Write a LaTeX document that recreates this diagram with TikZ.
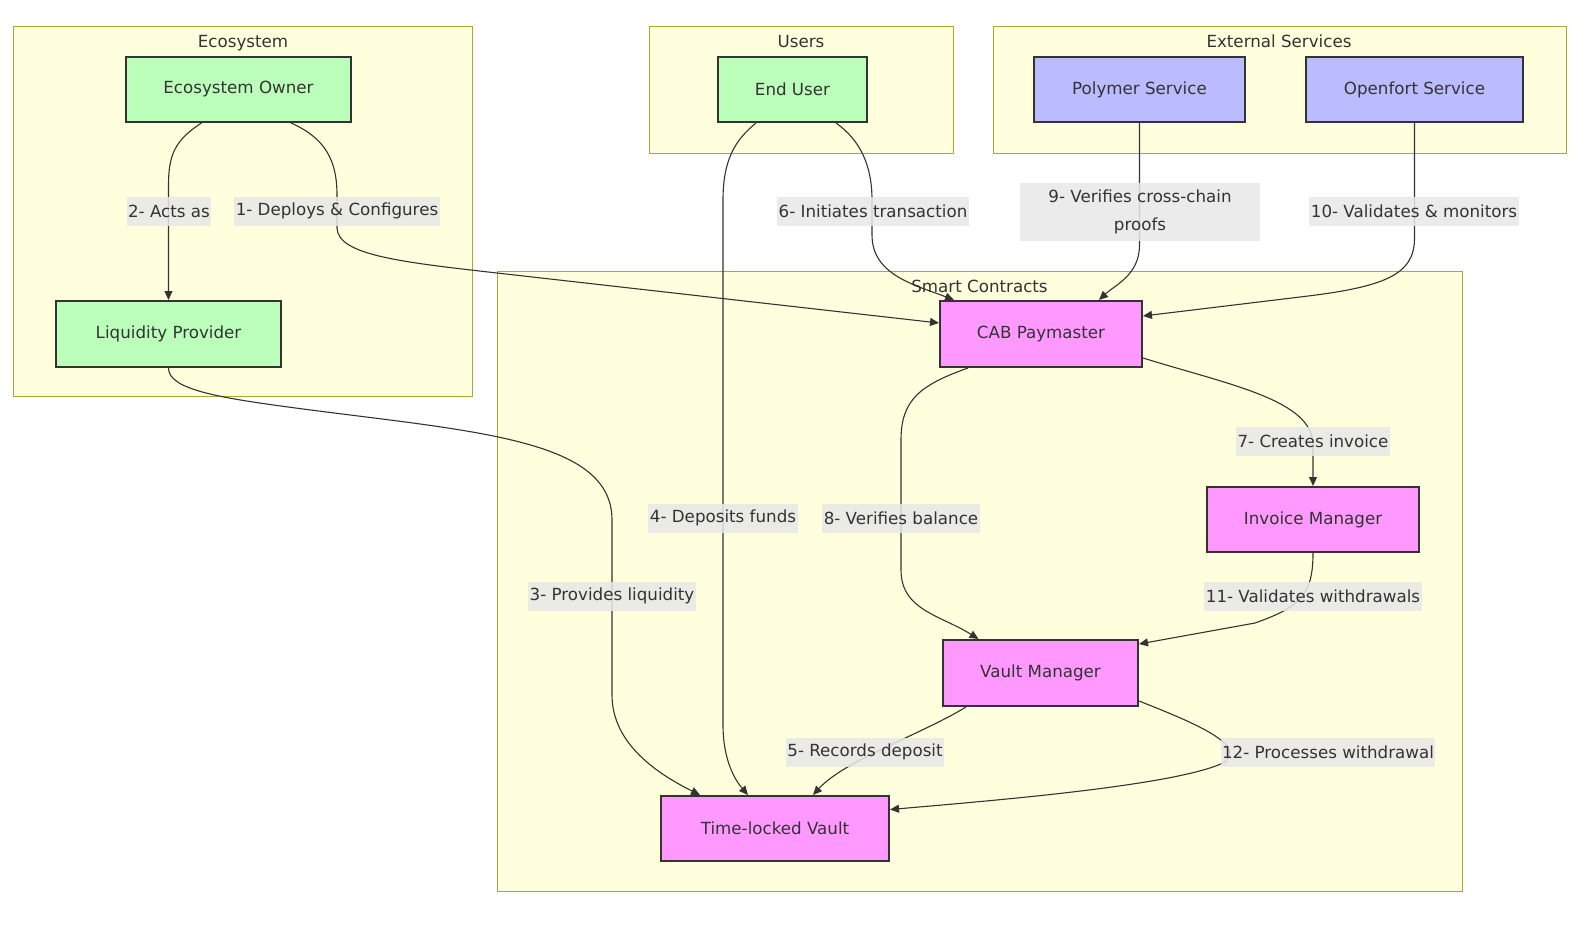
\documentclass[tikz,border=0pt]{standalone}
\usepackage{fontspec}
\setmainfont{DejaVu Sans}
\usetikzlibrary{arrows.meta}
\definecolor{clfill}{HTML}{FFFFDE}
\definecolor{clstroke}{HTML}{AAAA33}
\definecolor{nstroke}{HTML}{333333}
\definecolor{txt}{HTML}{333333}
\definecolor{gfill}{HTML}{BBFFBB}
\definecolor{bfill}{HTML}{BBBBFF}
\definecolor{pfill}{HTML}{FF99FF}
\definecolor{lblfill}{HTML}{E8E8E8}
\newcommand\dfont{\fontsize{16.7}{20}\selectfont}
\tikzset{
  cluster/.style={draw=clstroke, fill=clfill, line width=1pt},
  ctitle/.style={font=\dfont, text=txt, inner sep=0pt, anchor=base},
  box/.style={draw=nstroke, line width=2pt, minimum height=65pt, inner sep=0pt, text=txt, font=\dfont},
  gbox/.style={box, fill=gfill},
  bbox/.style={box, fill=bfill},
  pbox/.style={box, fill=pfill},
  edge/.style={draw=nstroke, line width=1.1pt, -{Triangle[length=9pt,width=8pt]}},
  elabel/.style={fill=lblfill, fill opacity=0.85, text opacity=1, inner xsep=1.5pt, inner ysep=0pt, minimum height=29pt, font=\dfont, text=txt}
}
\begin{document}
\begin{tikzpicture}[x=1pt,y=-1pt]
\useasboundingbox[fill=white] (0,0) rectangle (1584,924);
% clusters
\draw[cluster] (13,26) rectangle (472,396);
\draw[cluster] (649,26) rectangle (953,153);
\draw[cluster] (993,26) rectangle (1566,153);
\draw[cluster] (497,271) rectangle (1462,891);
\node[ctitle] (tEco) at (243,47) {Ecosystem};
\node[ctitle] (tUsers) at (801,47) {Users};
\node[ctitle] (tExt) at (1279,47) {External Services};
\node[ctitle] (tSC) at (979.5,292) {Smart Contracts};
% nodes
\node[gbox, minimum width=225pt] (owner) at (238.5,89.5) {Ecosystem Owner};
\node[gbox, minimum width=225pt, minimum height=66pt] (lp) at (168.5,334) {Liquidity Provider};
\node[gbox, minimum width=149pt] (enduser) at (792.5,89.5) {End User};
\node[bbox, minimum width=211pt] (polymer) at (1139.5,89.5) {Polymer Service};
\node[bbox, minimum width=217pt] (openfort) at (1414.5,89.5) {Openfort Service};
\node[pbox, minimum width=202pt, minimum height=66pt] (cab) at (1041,334) {CAB Paymaster};
\node[pbox, minimum width=212pt] (invoice) at (1313,519.5) {Invoice Manager};
\node[pbox, minimum width=195pt, minimum height=66pt] (vm) at (1040.5,673) {Vault Manager};
\node[pbox, minimum width=228pt] (vault) at (775,828.5) {Time-locked Vault};
% edges
\draw[edge] ([xshift=52.5pt]owner.south) .. controls (325,138) and (337,160) .. (337,195) -- (337,228) .. controls (338,255) and (400,262) .. (497,273) -- ([yshift=11pt]cab.west);
\draw[edge] ([xshift=-37pt]owner.south) .. controls (175,140) and (168.5,155) .. (168.5,185) -- (lp.north);
\draw[edge] (lp.south) .. controls (168.5,390) and (220,398) .. (303,409) .. controls (480,432) and (612,440) .. (612,520) -- (612,695) .. controls (612,745) and (660,775) .. ([xshift=-75pt]vault.north);
\draw[edge] ([xshift=-36.5pt]enduser.south) .. controls (735,140) and (723,160) .. (723,200) -- (723,725) .. controls (723,760) and (735,780) .. ([xshift=-27pt]vault.north);
\draw[edge] ([xshift=-74.5pt]vm.south) .. controls (920,735) and (845,760) .. ([xshift=38pt]vault.north);
\draw[edge] ([xshift=43.5pt]enduser.south) .. controls (860,140) and (872,165) .. (872,200) -- (872,235) .. controls (872,275) and (915,285) .. ([xshift=-87pt]cab.north);
\draw[edge] ([yshift=-24pt]cab.east) .. controls (1230,385) and (1313,400) .. (1313,445) -- (invoice.north);
\draw[edge] ([xshift=-73pt]cab.south) .. controls (920,385) and (901,400) .. (901,440) -- (901,570) .. controls (901,610) and (940,615) .. ([xshift=-62pt]vm.north);
\draw[edge] (polymer.south) -- (1139.5,245) .. controls (1139.5,275) and (1115,285) .. ([xshift=58pt]cab.north);
\draw[edge] (openfort.south) -- (1414.5,238) .. controls (1414.5,275) and (1385,287) .. (1300,297) -- ([yshift=18pt]cab.east);
\draw[edge] (invoice.south) .. controls (1313,595) and (1300,607) .. (1255,623) -- ([yshift=29pt]vm.east);
\draw[edge] ([yshift=-28pt]vm.east) .. controls (1200,725) and (1245,745) .. (1225,762) .. controls (1180,785) and (1000,800) .. ([yshift=19pt]vault.east);
% edge labels
\node[elabel] (l1) at (337,211) {1- Deploys \& Configures};
\node[elabel] (l2) at (169,211) {2- Acts as};
\node[elabel] (l3) at (612,596) {3- Provides liquidity};
\node[elabel] (l4) at (723,518) {4- Deposits funds};
\node[elabel] (l5) at (865,752) {5- Records deposit};
\node[elabel] (l6) at (873,211) {6- Initiates transaction};
\node[elabel] (l7) at (1313,441) {7- Creates invoice};
\node[elabel] (l8) at (901,518) {8- Verifies balance};
\node[elabel, align=center, minimum width=240pt, minimum height=58pt, font=\fontsize{16.7}{28}\selectfont] (l9) at (1140,212) {9- Verifies cross-chain\\proofs};
\node[elabel] (l10) at (1414,211) {10- Validates \& monitors};
\node[elabel] (l11) at (1313,596) {11- Validates withdrawals};
\node[elabel] (l12) at (1328,752) {12- Processes withdrawal};
\end{tikzpicture}
\end{document}
